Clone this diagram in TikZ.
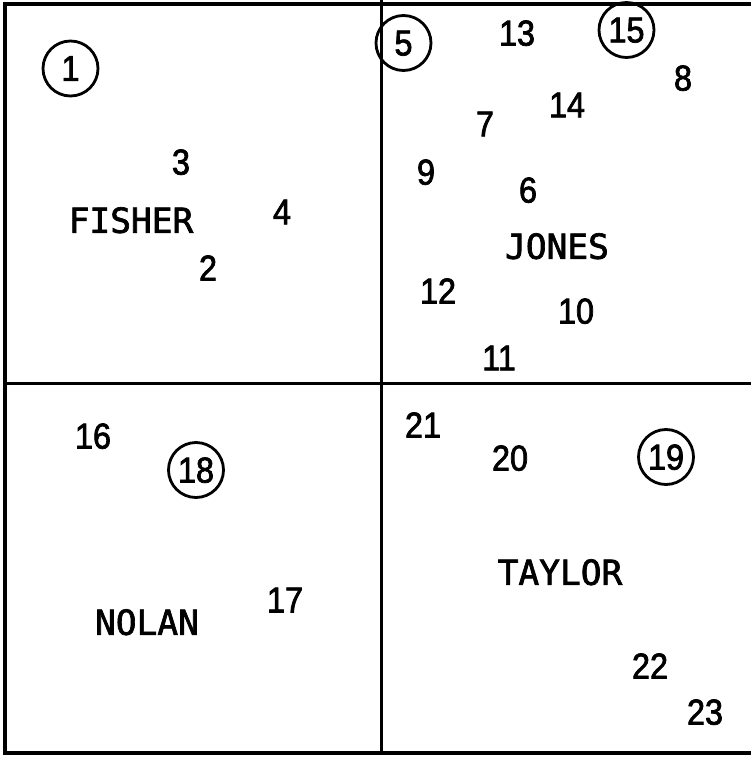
\documentclass[tikz,border=0pt]{standalone}
\usepackage{fontspec}
\setmainfont[FakeBold=2]{Liberation Sans}
\newfontfamily\numfont[FakeBold=2,FakeStretch=0.9]{Liberation Sans}
\newfontfamily\wordfont[FakeBold=2]{DejaVu Sans Mono}
\begin{document}
\begin{tikzpicture}[x=1pt,y=-1pt,
  num/.style={font=\numfont\fontsize{36}{36}\selectfont, inner sep=0pt, text depth=0pt},
  word/.style={font=\wordfont\fontsize{34.5}{34.5}\selectfont, inner sep=0pt, text depth=0pt},
  ring/.style={num, circle, draw, line width=2.8pt, minimum size=55pt},
  frame/.style={line width=4pt},
  divider/.style={line width=3pt}]
\useasboundingbox (0,0) rectangle (751,757);
% frame (open on the right)
\coordinate (tr) at (751,4);
\coordinate (tl) at (5,4);
\coordinate (bl) at (5,753);
\coordinate (br) at (751,753);
\draw[frame] (tr) -- (tl) -- (bl) -- (br);
% dividers
\coordinate (vt) at (381.5,0);
\coordinate (vb) at (381.5,755);
\coordinate (hl) at (5,383.5);
\coordinate (hr) at (751,383.5);
\draw[divider] (vt) -- (vb);
\draw[divider] (hl) -- (hr);
% FISHER
\node[ring] (n1) at (70.5,68.5) {1};
\node[num] (n3) at (181,162) {3};
\node[word] (fisher) at (131,220) {FISHER};
\node[num] (n4) at (282,212) {4};
\node[num] (n2) at (208,268) {2};
% JONES
\node[ring] (n5) at (403.5,43) {5};
\node[num] (n13) at (517,33) {13};
\node[ring] (n15) at (626.5,30) {15};
\node[num] (n8) at (683,78) {8};
\node[num] (n14) at (567,105) {14};
\node[num] (n7) at (485,124) {7};
\node[num] (n9) at (426,172) {9};
\node[num] (n6) at (528,190) {6};
\node[word] (jones) at (557,246) {JONES};
\node[num] (n12) at (438,291) {12};
\node[num] (n10) at (576,311) {10};
\node[num] (n11) at (499,358) {11};
% NOLAN
\node[num] (n16) at (93,436) {16};
\node[ring] (n18) at (196,470) {18};
\node[num] (n17) at (285,600) {17};
\node[word] (nolan) at (147,622) {NOLAN};
% TAYLOR
\node[num] (n21) at (423,425) {21};
\node[num] (n20) at (510,458) {20};
\node[ring] (n19) at (666,457) {19};
\node[word] (taylor) at (560,572) {TAYLOR};
\node[num] (n22) at (650,666) {22};
\node[num] (n23) at (705,712) {23};
\end{tikzpicture}
\end{document}
